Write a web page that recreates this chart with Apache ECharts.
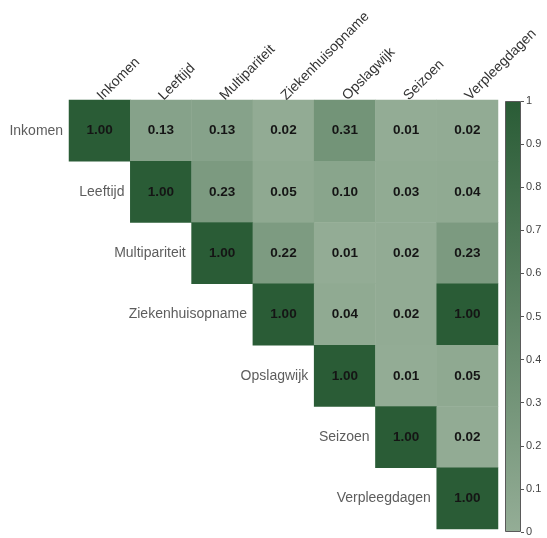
<!DOCTYPE html>
<html>
<head>
<meta charset="utf-8">
<script src="https://cdn.jsdelivr.net/npm/echarts@6/dist/echarts.min.js"></script>
<style>
html, body { margin: 0; padding: 0; background: #fff; }
#chart { width: 547px; height: 538px; }
</style>
</head>
<body>
<div id="chart"></div>
<script>
// Variables of the correlation matrix
const variables = ['Inkomen', 'Leeftijd', 'Multipariteit', 'Ziekenhuisopname', 'Opslagwijk', 'Seizoen', 'Verpleegdagen'];

// Upper triangle, one row per variable (from its diagonal cell to the right)
const rowInkomen = [1.00, 0.13, 0.13, 0.02, 0.31, 0.01, 0.02];
const rowLeeftijd = [1.00, 0.23, 0.05, 0.10, 0.03, 0.04];
const rowMultipariteit = [1.00, 0.22, 0.01, 0.02, 0.23];
const rowZiekenhuisopname = [1.00, 0.04, 0.02, 1.00];
const rowOpslagwijk = [1.00, 0.01, 0.05];
const rowSeizoen = [1.00, 0.02];
const rowVerpleegdagen = [1.00];
const rows = [rowInkomen, rowLeeftijd, rowMultipariteit, rowZiekenhuisopname, rowOpslagwijk, rowSeizoen, rowVerpleegdagen];

// Colour bar ticks
const scaleMin = 0;
const scaleMax = 1;
const scaleStep = 0.1;

const lowColor = '#94ad96';
const highColor = '#2a5c36';
const fontFamily = '"Liberation Sans", Arial, sans-serif';

const cells = [];
rows.forEach((row, i) => {
  row.forEach((v, k) => cells.push([i + k, i, v]));
});
const diagonal = variables.map((name, i) => ({ value: [i, i], name: name }));

const chart = echarts.init(document.getElementById('chart'));
chart.setOption({
  animation: false,
  backgroundColor: '#ffffff',
  textStyle: { fontFamily: fontFamily },
  grid: [
    { left: 69, top: 100, width: 429, height: 429 },
    { left: 505, top: 101, width: 16, height: 431 }
  ],
  xAxis: [
    {
      gridIndex: 0,
      type: 'category',
      data: variables,
      position: 'top',
      axisLine: { show: false },
      axisTick: { show: false },
      splitLine: { show: false },
      axisLabel: {
        rotate: -45,
        margin: 2,
        interval: 0,
        fontSize: 14,
        color: '#333333',
        fontFamily: fontFamily
      }
    },
    {
      gridIndex: 1,
      type: 'category',
      data: ['scale'],
      show: false
    }
  ],
  yAxis: [
    {
      gridIndex: 0,
      type: 'category',
      data: variables,
      inverse: true,
      axisLine: { show: false },
      axisTick: { show: false },
      axisLabel: { show: false },
      splitLine: { show: false }
    },
    {
      gridIndex: 1,
      type: 'value',
      min: scaleMin,
      max: scaleMax,
      interval: scaleStep,
      position: 'right',
      axisLine: { show: false },
      axisTick: { show: true, length: 3, lineStyle: { color: '#555555' } },
      splitLine: { show: false },
      axisLabel: { margin: 5, fontSize: 11, color: '#444444', fontFamily: fontFamily }
    }
  ],
  visualMap: {
    show: false,
    type: 'continuous',
    seriesIndex: 0,
    min: scaleMin,
    max: scaleMax,
    dimension: 2,
    inRange: { color: [lowColor, highColor] }
  },
  series: [
    {
      type: 'heatmap',
      xAxisIndex: 0,
      yAxisIndex: 0,
      data: cells,
      label: {
        show: true,
        formatter: p => p.value[2].toFixed(2),
        fontSize: 13.5,
        fontWeight: 'bold',
        color: '#151515',
        fontFamily: fontFamily
      },
      itemStyle: { borderWidth: 0 },
      emphasis: { disabled: true }
    },
    {
      type: 'scatter',
      xAxisIndex: 0,
      yAxisIndex: 0,
      data: diagonal,
      symbol: 'rect',
      symbolSize: 61,
      itemStyle: { color: 'rgba(0,0,0,0)' },
      label: {
        show: true,
        position: 'left',
        distance: 6,
        formatter: p => p.name,
        fontSize: 14,
        color: '#333333',
        fontFamily: fontFamily
      },
      silent: true
    },
    {
      type: 'bar',
      xAxisIndex: 1,
      yAxisIndex: 1,
      data: [scaleMax],
      barWidth: '100%',
      itemStyle: {
        color: new echarts.graphic.LinearGradient(0, 0, 0, 1, [
          { offset: 0, color: highColor },
          { offset: 1, color: lowColor }
        ]),
        borderColor: '#5a5a5a',
        borderWidth: 1
      },
      silent: true
    }
  ]
});
</script>
</body>
</html>
